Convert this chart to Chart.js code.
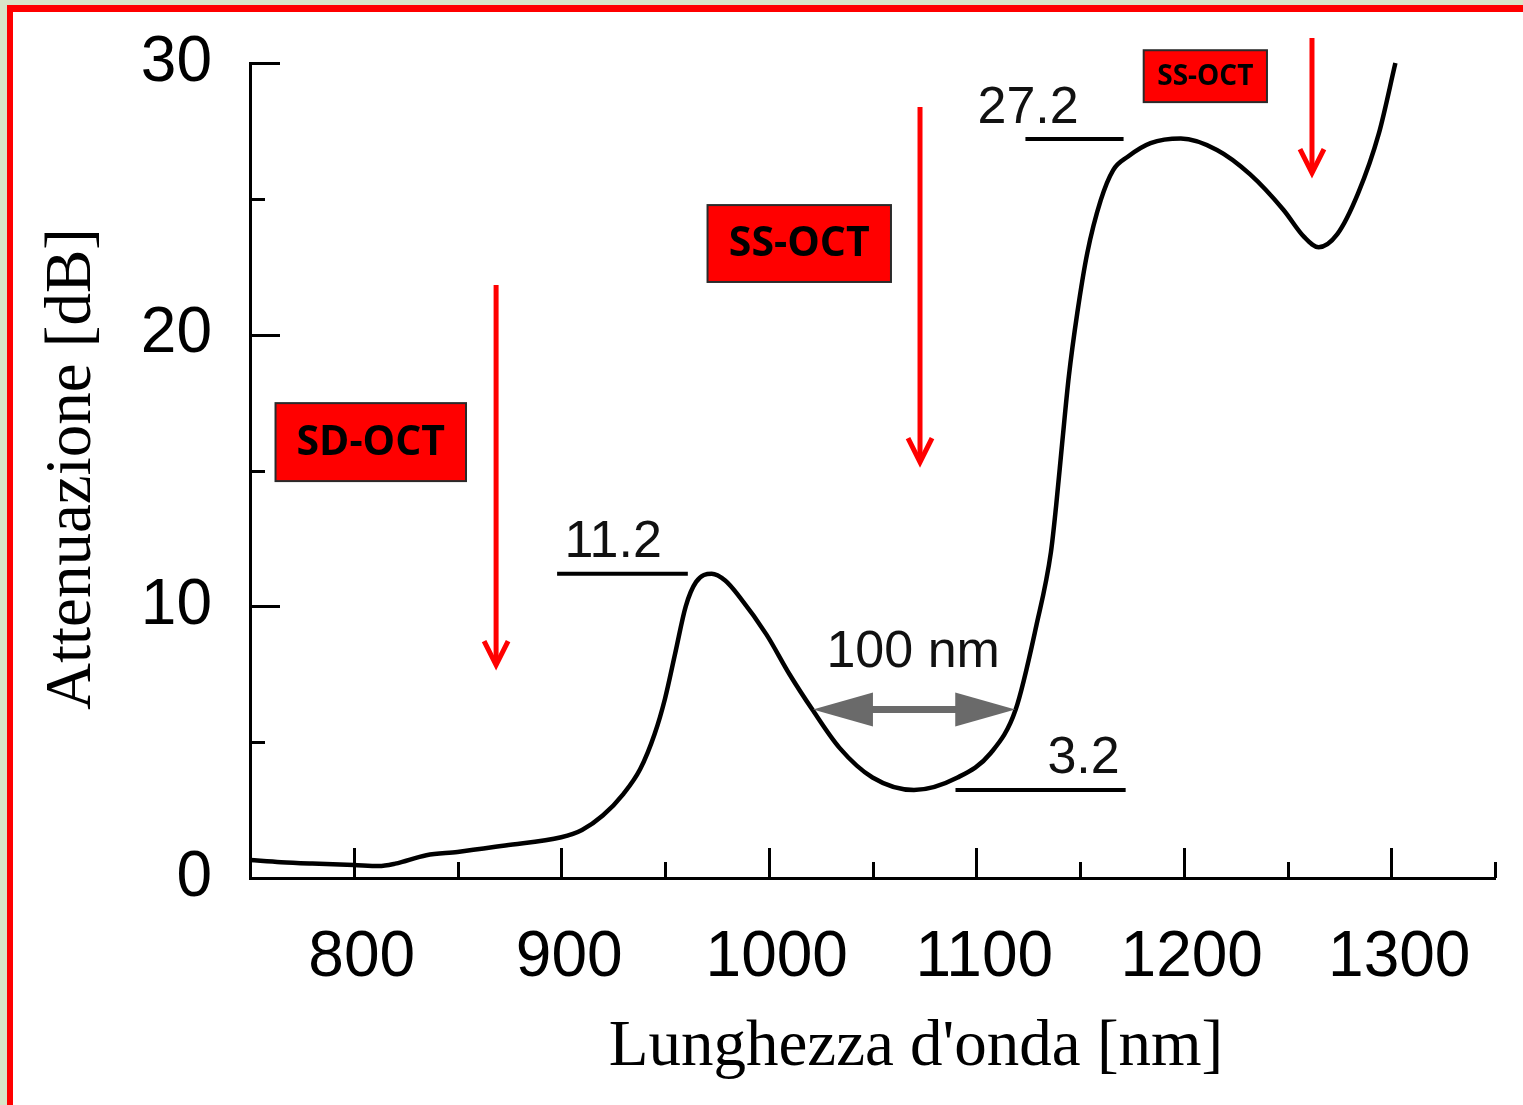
<!DOCTYPE html>
<html>
<head>
<meta charset="utf-8">
<script src="https://cdn.jsdelivr.net/npm/chart.js@4.4.1/dist/chart.umd.min.js"></script>
<style>
  html, body { margin: 0; padding: 0; background: #ffffff; }
  #wrap { width: 1523px; height: 1105px; }
</style>
</head>
<body>
<div id="wrap"><canvas id="c" width="1523" height="1105"></canvas></div>
<script>
// ---- data ----
const wavelengths = [750, 765, 780, 800, 812, 820, 835, 850, 873, 900, 910, 920, 930, 938, 945, 950, 955, 960, 965, 972.5, 979, 986, 999, 1010, 1021, 1034, 1050, 1070, 1091, 1107, 1119, 1129, 1136, 1138.5, 1141.4, 1144.6, 1148.7, 1153.5, 1160, 1166, 1173, 1184, 1198.6, 1216, 1232, 1248, 1258, 1265, 1274, 1284, 1294, 1302];
const attenuation = [0.66, 0.58, 0.53, 0.48, 0.44, 0.53, 0.84, 0.96, 1.2, 1.5, 1.77, 2.3, 3.1, 4.0, 5.3, 6.6, 8.3, 10.0, 10.9, 11.2, 10.95, 10.34, 8.95, 7.5, 6.2, 4.8, 3.7, 3.24, 3.7, 4.6, 6.2, 9.3, 12.0, 13.7, 16.0, 18.45, 20.8, 23.0, 24.95, 26.06, 26.55, 27.05, 27.22, 26.8, 25.9, 24.6, 23.6, 23.22, 23.7, 25.2, 27.4, 30.0];
const xTickLabels = [800, 900, 1000, 1100, 1200, 1300];
const yTickLabels = [0, 10, 20, 30];
const xTitle = "Lunghezza d'onda [nm]";
const yTitle = "Attenuazione [dB]";

// value labels with their reference lines (data units)
const levelLabels = ['11.2', '27.2', '3.2'];
const levelValues = [11.2, 27.2, 3.24];
const levelLineFrom = [898, 1123.7, 1090];
const levelLineTo = [961, 1171, 1172];
const levelTextX = [925, 1125, 1151.7];
const levelTextBaseline = [11.81, 27.79, 3.86];

// 100 nm double arrow
const spanLabel = '100 nm';
const spanFrom = 1021.3, spanTo = 1118.8, spanLevel = 6.2;
const spanTextX = 1069.6, spanTextBaseline = 7.77;

// OCT boxes
const boxLabels = ['SD-OCT', 'SS-OCT', 'SS-OCT'];
const boxX0 = [762.3, 970.5, 1180.7];
const boxX1 = [854.1, 1058.9, 1240.1];
const boxY0 = [14.61, 21.94, 28.56];
const boxY1 = [17.48, 24.77, 30.47];

// red vertical arrows
const arrowX = [868.6, 1072.9, 1261.8];
const arrowTop = [21.83, 28.38, 30.92];
const arrowTip = [7.84, 15.31, 25.95];

const points = wavelengths.map((w, i) => ({x: w, y: attenuation[i]}));

const backgroundPlugin = {
  id: 'bg',
  beforeDraw(chart) {
    const ctx = chart.ctx;
    ctx.save();
    ctx.fillStyle = '#d8e5c8';
    ctx.fillRect(0, 0, chart.width, chart.height);
    ctx.fillStyle = '#ff0000';
    ctx.fillRect(7, 5, chart.width - 7, chart.height - 5);
    ctx.fillStyle = '#ffffff';
    ctx.fillRect(13, 12, chart.width - 13, chart.height - 12);
    ctx.restore();
  }
};

const decorPlugin = {
  id: 'decor',
  afterDraw(chart) {
    const ctx = chart.ctx;
    const xs = chart.scales.x, ys = chart.scales.y;
    const X = v => xs.getPixelForValue(v);
    const Y = v => ys.getPixelForValue(v);
    const area = chart.chartArea;
    ctx.save();

    // inward tick marks
    ctx.strokeStyle = '#000';
    ctx.lineWidth = 3;
    ctx.lineCap = 'butt';
    xs.ticks.forEach(t => {
      const v = t.value;
      const len = (v % 100 === 0) ? 30 : 16;
      const px = Math.round(X(v)) + 0.5;
      ctx.beginPath();
      ctx.moveTo(px, area.bottom);
      ctx.lineTo(px, area.bottom - len);
      ctx.stroke();
    });
    ys.ticks.forEach(t => {
      const v = t.value;
      const len = (v % 10 === 0) ? 30 : 15;
      const py = Math.round(Y(v)) + 0.5;
      ctx.beginPath();
      ctx.moveTo(area.left, py);
      ctx.lineTo(area.left + len, py);
      ctx.stroke();
    });

    // axis titles
    ctx.fillStyle = '#000';
    ctx.font = "65px 'Liberation Serif'";
    ctx.textAlign = 'center';
    ctx.textBaseline = 'alphabetic';
    ctx.fillText(xTitle, 916, 1065);
    ctx.save();
    ctx.translate(90, 469);
    ctx.rotate(-Math.PI / 2);
    ctx.fillText(yTitle, 0, 0);
    ctx.restore();

    // level labels and lines
    ctx.font = "52px 'Liberation Sans'";
    ctx.fillStyle = '#111';
    ctx.strokeStyle = '#000';
    ctx.lineWidth = 4;
    levelLabels.forEach((lab, i) => {
      ctx.beginPath();
      ctx.moveTo(X(levelLineFrom[i]), Y(levelValues[i]));
      ctx.lineTo(X(levelLineTo[i]), Y(levelValues[i]));
      ctx.stroke();
      ctx.fillText(lab, X(levelTextX[i]), Y(levelTextBaseline[i]));
    });

    // 100 nm label + double arrow
    ctx.fillText(spanLabel, X(spanTextX), Y(spanTextBaseline));
    const ax0 = X(spanFrom), ax1 = X(spanTo), ay = Y(spanLevel);
    const headL = 60, headH = 17;
    ctx.strokeStyle = '#6a6a6a';
    ctx.fillStyle = '#6a6a6a';
    ctx.lineWidth = 7;
    ctx.beginPath();
    ctx.moveTo(ax0 + headL - 4, ay);
    ctx.lineTo(ax1 - headL + 4, ay);
    ctx.stroke();
    ctx.beginPath();
    ctx.moveTo(ax0, ay);
    ctx.lineTo(ax0 + headL, ay - headH);
    ctx.lineTo(ax0 + headL, ay + headH);
    ctx.closePath();
    ctx.fill();
    ctx.beginPath();
    ctx.moveTo(ax1, ay);
    ctx.lineTo(ax1 - headL, ay - headH);
    ctx.lineTo(ax1 - headL, ay + headH);
    ctx.closePath();
    ctx.fill();

    // red boxes
    boxLabels.forEach((lab, i) => {
      const x0 = X(boxX0[i]), x1 = X(boxX1[i]);
      const y0 = Y(boxY1[i]), y1 = Y(boxY0[i]);
      ctx.fillStyle = '#ff0000';
      ctx.fillRect(x0, y0, x1 - x0, y1 - y0);
      ctx.strokeStyle = '#2a2a2a';
      ctx.lineWidth = 2;
      ctx.strokeRect(x0, y0, x1 - x0, y1 - y0);
      const h = y1 - y0;
      const size = h > 60 ? 41 : 28;
      ctx.font = "bold " + size + "px 'Open Sans'";
      ctx.fillStyle = '#000';
      ctx.textAlign = 'center';
      ctx.textBaseline = 'middle';
      ctx.fillText(lab, (x0 + x1) / 2, (y0 + y1) / 2 + 1);
    });

    // red arrows
    ctx.strokeStyle = '#ff0000';
    ctx.lineWidth = 5;
    ctx.lineCap = 'butt';
    ctx.lineJoin = 'miter';
    arrowX.forEach((v, i) => {
      const px = X(v), top = Y(arrowTop[i]), tip = Y(arrowTip[i]);
      ctx.beginPath();
      ctx.moveTo(px, top);
      ctx.lineTo(px, tip - 3);
      ctx.stroke();
      ctx.beginPath();
      ctx.moveTo(px - 12, tip - 24);
      ctx.lineTo(px, tip);
      ctx.lineTo(px + 12, tip - 24);
      ctx.stroke();
    });

    ctx.restore();
  }
};

new Chart(document.getElementById('c'), {
  type: 'line',
  data: {
    datasets: [{
      data: points,
      borderColor: '#000',
      borderWidth: 4.5,
      pointRadius: 0,
      fill: false,
      cubicInterpolationMode: 'monotone',
      clip: false
    }]
  },
  options: {
    responsive: false,
    animation: false,
    events: [],
    layout: { padding: { top: 63, right: 28, left: 0, bottom: 0 } },
    plugins: { legend: { display: false }, tooltip: { enabled: false }, title: { display: false } },
    scales: {
      x: {
        type: 'linear', position: 'bottom', min: 750, max: 1350,
        grid: { display: false },
        border: { display: true, color: '#000', width: 3 },
        ticks: {
          stepSize: 50, autoSkip: false, maxRotation: 0, minRotation: 0,
          callback: v => xTickLabels.includes(v) ? String(v) : '',
          font: { family: 'Liberation Sans', size: 64 }, color: '#000',
          padding: 34, labelOffset: 8
        },
        afterFit: s => { s.height = 227; s.paddingLeft = 0; s.paddingRight = 0; }
      },
      y: {
        type: 'linear', position: 'left', min: 0, max: 30,
        grid: { display: false },
        border: { display: true, color: '#000', width: 3 },
        ticks: {
          stepSize: 5, autoSkip: false,
          callback: v => yTickLabels.includes(v) ? String(v) : '',
          font: { family: 'Liberation Sans', size: 64 }, color: '#000',
          padding: 30
        },
        afterFit: s => { s.width = 250; s.paddingTop = 0; s.paddingBottom = 0; }
      }
    }
  },
  plugins: [backgroundPlugin, decorPlugin]
});
</script>
</body>
</html>
